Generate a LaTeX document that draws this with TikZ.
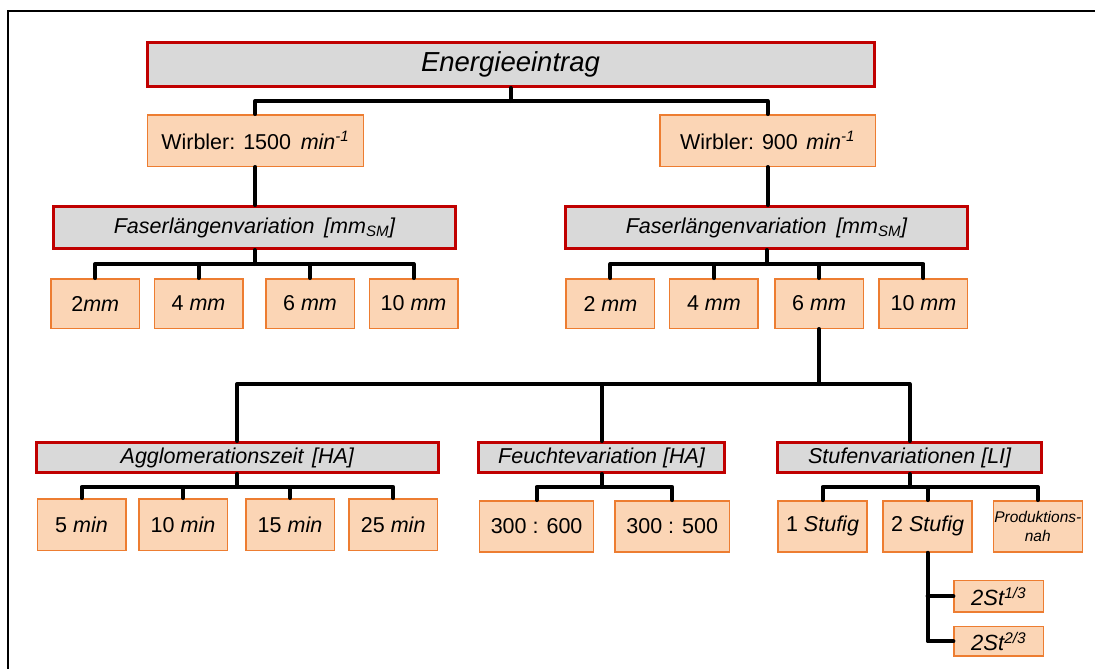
\documentclass[tikz,border=0pt]{standalone}
\usepackage{fontspec}
\setmainfont{Liberation Sans}
\definecolor{redc}{HTML}{C00000}
\definecolor{greyc}{HTML}{D9D9D9}
\definecolor{orc}{HTML}{ED7D31}
\definecolor{peach}{HTML}{FBD5B5}
\tikzset{
  redbox/.style={draw=redc, line width=3pt, fill=greyc, inner sep=0pt,
    font=\fontsize{21.5}{25}\selectfont\itshape},
  orbox/.style={draw=orc, line width=1.5pt, fill=peach, inner sep=0pt,
    font=\fontsize{21.5}{25}\selectfont},
  mmbox/.style={orbox, minimum width=88.5pt, minimum height=49.5pt},
  minbox/.style={orbox, minimum width=88.5pt, minimum height=51.5pt},
  lowbox/.style={orbox, minimum width=89pt, minimum height=51.2pt},
  conn/.style={line width=4pt, line cap=round, line join=round},
}
\begin{document}
\begin{tikzpicture}[x=1pt,y=-1pt]
\useasboundingbox (0,0) rectangle (1095,669);
\draw[line width=2pt] (7.5,669) -- (7.5,11) -- (1095,11);

% coordinates for bus levels
\coordinate (y1) at (0,101);
\coordinate (y2) at (0,264);
\coordinate (y3) at (0,384);
\coordinate (y4) at (0,487);

% top
\node[redbox, minimum width=727pt, minimum height=44pt, font=\fontsize{27.5}{30}\selectfont\itshape] (E) at (510.5,64.5) {Energieeintrag};
\node[orbox, minimum width=216pt, minimum height=51.5pt] (W1) at (255.3,140.5) {Wirbler: 1500\hspace{0.45em}\textit{min\textsuperscript{-1}}};
\node[orbox, minimum width=215.5pt, minimum height=51.5pt] (W2) at (767.5,140.5) {Wirbler: 900\hspace{0.4em}\textit{min\textsuperscript{-1}}};
\node[redbox, minimum width=402pt, minimum height=42pt] (F1) at (254.5,227.5) {Faserlängenvariation\hspace{0.45em}[mm\textsubscript{SM}]};
\node[redbox, minimum width=401.5pt, minimum height=42pt] (F2) at (766.5,227.5) {Faserlängenvariation\hspace{0.45em}[mm\textsubscript{SM}]};

% mm boxes
\node[mmbox] (L1) at (95.2,303.5) {2\textit{mm}};
\node[mmbox] (L2) at (198.5,303.5) {4 \textit{mm}};
\node[mmbox] (L3) at (310,303.5) {6 \textit{mm}};
\node[mmbox] (L4) at (413.5,303.5) {10 \textit{mm}};
\node[mmbox] (R1) at (610.4,303.5) {2 \textit{mm}};
\node[mmbox] (R2) at (713.9,303.5) {4 \textit{mm}};
\node[mmbox] (R3) at (819.1,303.5) {6 \textit{mm}};
\node[mmbox] (R4) at (923.4,303.5) {10 \textit{mm}};

% second level
\node[redbox, minimum width=401.4pt, minimum height=30pt] (A) at (237.3,457.5) {Agglomerationszeit\hspace{0.4em}[HA]};
\node[redbox, minimum width=246.3pt, minimum height=30pt] (Fe) at (601.6,457.5) {Feuchtevariation [HA]};
\node[redbox, minimum width=264pt, minimum height=30pt] (St) at (909.6,457.5) {Stufenvariationen [LI]};

\node[minbox] (M1) at (81.5,524.5) {5 \textit{min}};
\node[minbox] (M2) at (183,524.5) {10 \textit{min}};
\node[minbox] (M3) at (290,524.5) {15 \textit{min}};
\node[minbox] (M4) at (393.2,524.5) {25 \textit{min}};

\node[orbox, minimum width=113.8pt, minimum height=51.2pt] (H1) at (536.6,526.4) {300 : 600};
\node[orbox, minimum width=114.2pt, minimum height=51.2pt] (H2) at (672.2,526.4) {300 : 500};

\node[lowbox] (S1) at (822.5,526.4) {1 \textit{Stufig}};
\node[lowbox] (S2) at (927.6,526.4) {2 \textit{Stufig}};
\node[lowbox, align=center, font=\fontsize{15.5}{19}\selectfont\itshape] (S3) at (1037.8,526.4) {Produktions-\\nah};

\node[orbox, minimum width=89.2pt, minimum height=31.2pt, font=\fontsize{22}{25}\selectfont\itshape] (T1) at (998.7,596.3) {2St\textsuperscript{1/3}};
\node[orbox, minimum width=89.2pt, minimum height=29.2pt, font=\fontsize{22}{25}\selectfont\itshape] (T2) at (998.7,641.3) {2St\textsuperscript{2/3}};

% connectors
\draw[conn] (E.south) -- (E.south |- y1);
\draw[conn] (W1.north) -- (W1.north |- y1) -- (W2.north |- y1) -- (W2.north);
\draw[conn] (W1.south) -- (W1.south |- F1.north);
\draw[conn] (W2.south) -- (W2.south |- F2.north);

\draw[conn] (F1.south) -- (F1.south |- y2);
\draw[conn] (L1.north) -- (L1.north |- y2) -- (L4.north |- y2) -- (L4.north);
\foreach \n in {L2,L3} \draw[conn] (\n.north) -- (\n.north |- y2);
\draw[conn] (F2.south) -- (F2.south |- y2);
\draw[conn] (R1.north) -- (R1.north |- y2) -- (R4.north |- y2) -- (R4.north);
\foreach \n in {R2,R3} \draw[conn] (\n.north) -- (\n.north |- y2);

\draw[conn] (R3.south) -- (R3.south |- y3);
\draw[conn] (A.north) -- (A.north |- y3) -- (St.north |- y3) -- (St.north);
\draw[conn] (Fe.north) -- (Fe.north |- y3);

\draw[conn] (A.south) -- (A.south |- y4);
\draw[conn] (M1.north) -- (M1.north |- y4) -- (M4.north |- y4) -- (M4.north);
\foreach \n in {M2,M3} \draw[conn] (\n.north) -- (\n.north |- y4);

\draw[conn] (Fe.south) -- (Fe.south |- y4);
\draw[conn] (H1.north) -- (H1.north |- y4) -- (H2.north |- y4) -- (H2.north);

\draw[conn] (St.south) -- (St.south |- y4);
\draw[conn] (S1.north) -- (S1.north |- y4) -- (S3.north |- y4) -- (S3.north);
\draw[conn] (S2.north) -- (S2.north |- y4);

\draw[conn] (S2.south) -- (S2.south |- T2.west) -- (T2.west);
\draw[conn] (S2.south |- T1.west) -- (T1.west);
\end{tikzpicture}
\end{document}
